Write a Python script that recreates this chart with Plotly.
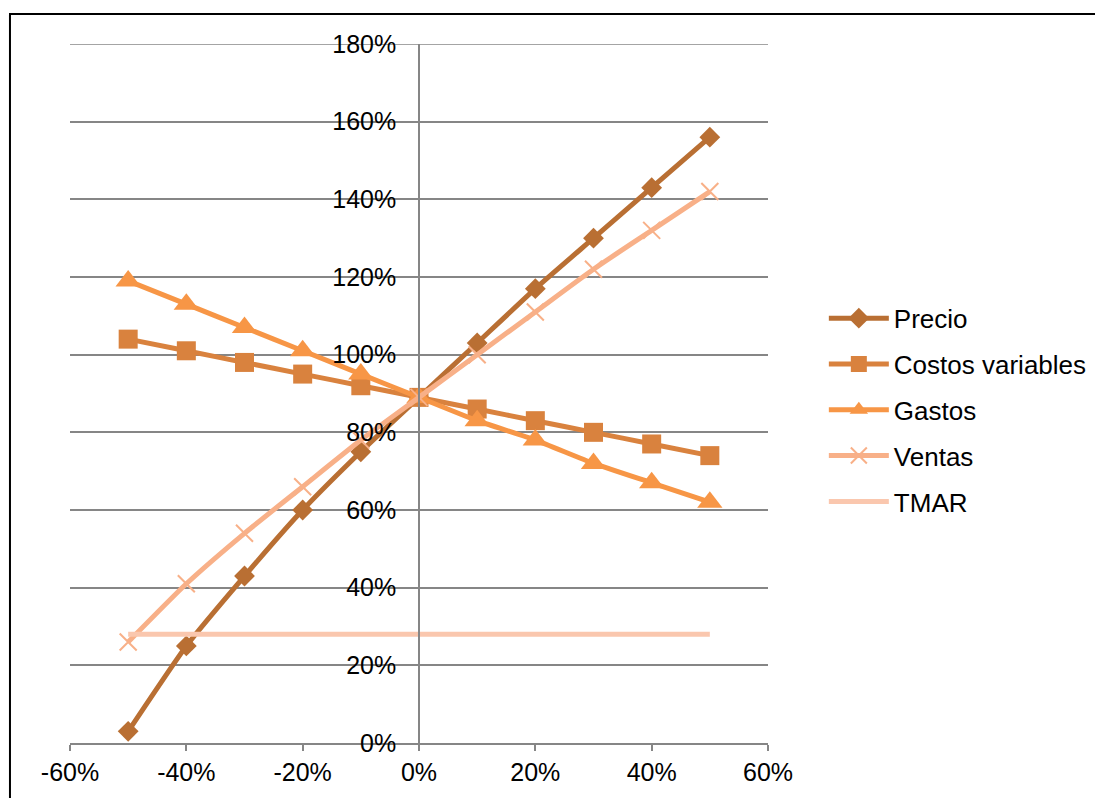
import plotly.graph_objects as go

x_vals = [-0.5, -0.4, -0.3, -0.2, -0.1, 0.0, 0.1, 0.2, 0.3, 0.4, 0.5]
precio = [0.03, 0.25, 0.43, 0.60, 0.75, 0.89, 1.03, 1.17, 1.30, 1.43, 1.56]
costos = [1.04, 1.01, 0.98, 0.95, 0.92, 0.89, 0.86, 0.83, 0.80, 0.77, 0.74]
gastos = [1.19, 1.13, 1.07, 1.01, 0.95, 0.89, 0.83, 0.78, 0.72, 0.67, 0.62]
ventas = [0.26, 0.41, 0.54, 0.66, 0.78, 0.89, 1.00, 1.11, 1.22, 1.32, 1.42]
tmar = [0.28] * 11

x_ticks = [-0.6, -0.4, -0.2, 0.0, 0.2, 0.4, 0.6]
x_labels = ["-60%", "-40%", "-20%", "0%", "20%", "40%", "60%"]
y_ticks = [0, 0.2, 0.4, 0.6, 0.8, 1.0, 1.2, 1.4, 1.6, 1.8]
y_labels = ["0%", "20%", "40%", "60%", "80%", "100%", "120%", "140%", "160%", "180%"]

FONT = "Liberation Sans, Arial, sans-serif"

fig = go.Figure()

series = [
    ("Precio", precio, "#B96F33", dict(symbol="diamond", size=16)),
    ("Costos variables", costos, "#D9823E", dict(symbol="square", size=19)),
    ("Gastos", gastos, "#F79646", dict(symbol="triangle-up", size=22)),
    ("Ventas", ventas, "#F8B088", dict(symbol="x-thin", size=17, line=dict(width=2, color="#F8B088"))),
]
for name, ys, col, mk in series:
    fig.add_trace(go.Scatter(
        x=x_vals, y=ys, name=name, legendgroup=name, mode="lines+markers",
        line=dict(color=col, width=5, shape="spline", smoothing=0.5),
        marker=dict(color=col, **mk),
    ))
fig.add_trace(go.Scatter(
    x=x_vals, y=tmar, name="TMAR", legendgroup="TMAR", mode="lines",
    line=dict(color="#FAC7AE", width=5),
))

fig.add_shape(type="rect", xref="paper", yref="paper",
              x0=-0.086, x1=1.6, y0=-0.3, y1=1.043,
              line=dict(color="black", width=2), fillcolor="rgba(0,0,0,0)", layer="below")
# top gridline (180%)
fig.add_shape(type="line", xref="paper", yref="y", x0=0, x1=1, y0=y_ticks[-1], y1=y_ticks[-1],
              line=dict(color="#868686", width=1.5), layer="below")

fig.update_layout(
    width=1103, height=798,
    margin=dict(l=62, r=343, t=36, b=63),
    paper_bgcolor="white", plot_bgcolor="white",
    font=dict(family=FONT, size=26, color="black"),
    showlegend=True,
    legend=dict(x=1.08, y=0.476, xanchor="left", yanchor="middle",
                font=dict(size=26, family=FONT), tracegroupgap=9,
                itemwidth=60, bgcolor="rgba(0,0,0,0)"),
    xaxis=dict(range=[-0.6, 0.6], tickvals=x_ticks, ticktext=x_labels,
               showgrid=False, zeroline=False, showline=True,
               linecolor="#868686", linewidth=1.5,
               ticks="outside", ticklen=6, tickcolor="#868686", tickwidth=1.5,
               tickfont=dict(size=25, family=FONT)),
    yaxis=dict(range=[0, 1.8], tickvals=y_ticks, ticktext=y_labels,
               showgrid=True, gridcolor="#868686", gridwidth=1.5,
               zeroline=False, showline=True, linecolor="#868686", linewidth=1.5,
               anchor="free", position=0.5, ticks="",
               ticklabelstandoff=17,
               tickfont=dict(size=25, family=FONT)),
)

fig.write_html("out.html")
